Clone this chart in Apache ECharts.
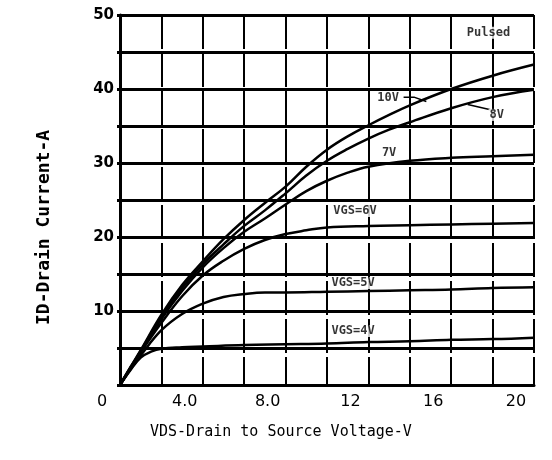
<!DOCTYPE html>
<html>
<head>
<meta charset="utf-8">
<script src="https://cdn.jsdelivr.net/npm/echarts@6/dist/echarts.min.js"></script>
<style>
html,body{margin:0;padding:0;background:#fff;}
#chart{width:552px;height:460px;}
</style>
</head>
<body>
<div id="chart"></div>
<script>
// drain current (A) vs drain-source voltage (V), one array per gate voltage
var vgs4V = [[0,0],[0.5,2],[1,3.7],[1.5,4.5],[2,4.9],[3,5.1],[4,5.2],[6,5.4],[8,5.5],[10,5.6],[12,5.8],[14,5.9],[16,6.1],[18,6.2],[20,6.4]];
var vgs5V = [[0,0],[0.5,2.1],[1,4],[2,7.4],[3,9.6],[4,11],[5,11.9],[6,12.3],[7,12.5],[8,12.5],[10,12.6],[12,12.7],[14,12.8],[16,12.9],[18,13.1],[20,13.2]];
var vgs6V = [[0,0],[0.5,2.2],[1,4.4],[2,8.4],[3,12],[4,14.8],[5,16.8],[6,18.4],[7,19.6],[8,20.4],[9,20.9],[10,21.3],[12,21.5],[14,21.6],[16,21.7],[18,21.8],[20,21.9]];
var vgs7V = [[0,0],[0.5,2.3],[1,4.5],[2,8.9],[3,12.7],[4,15.9],[5,18.5],[6,20.7],[7,22.5],[8,24.4],[9,26.2],[10,27.6],[11,28.7],[12,29.5],[14,30.3],[16,30.7],[18,30.9],[20,31.1]];
var vgs8V = [[0,0],[0.5,2.3],[1,4.6],[2,9.2],[3,13.1],[4,16.3],[5,19],[6,21.5],[7,23.6],[8,25.9],[9,28.3],[10,30.3],[11,31.9],[12,33.3],[13,34.5],[14,35.5],[16,37.4],[18,38.9],[20,39.9]];
var vgs10V = [[0,0],[0.5,2.4],[1,4.7],[2,9.5],[3,13.5],[4,16.7],[5,19.7],[6,22.3],[7,24.6],[8,26.8],[9,29.5],[10,31.8],[11,33.6],[12,35.1],[13,36.5],[14,37.8],[16,40],[18,41.8],[20,43.3]];

// curve labels and where they sit (V, A)
var labelTexts = ['Pulsed', '10V', '8V', '7V', 'VGS=6V', 'VGS=5V', 'VGS=4V'];
var labelAt = [[17.8,47.6],[12.95,38.85],[18.2,36.5],[13.0,31.4],[11.35,23.5],[11.26,13.8],[11.26,7.3]];
// leader lines from the labels to the curves
var leader10V = [[13.7,38.9],[14.2,38.9],[14.8,38.3]];
var leader8V = [[17.9,37.2],[16.8,37.9]];

var xTicks = [0, 4, 8, 12, 16, 20];
var xTickText = ['0', '4.0', '8.0', '12', '16', '20'];
var yTicks = [10, 20, 30, 40, 50];

var chart = echarts.init(document.getElementById('chart'));

function curve(name, data) {
    return {
        name: name,
        type: 'line',
        data: data,
        showSymbol: false,
        smooth: 0.4,
        lineStyle: { color: '#000', width: 2.5 },
        silent: true,
        z: 3
    };
}
function leader(data) {
    return {
        type: 'line',
        data: data,
        showSymbol: false,
        lineStyle: { color: '#000', width: 1.5 },
        silent: true,
        z: 3
    };
}

var labelData = labelAt.map(function (p, i) { return [p[0], p[1], labelTexts[i]]; });

var option = {
    backgroundColor: '#fff',
    animation: false,
    grid: { left: 120, right: 18, top: 15, bottom: 75 },
    xAxis: {
        type: 'value',
        min: 0,
        max: 20,
        interval: 2,
        axisLine: { show: true, onZero: false, lineStyle: { color: '#000', width: 3 } },
        axisTick: { show: false },
        axisLabel: {
            margin: 9,
            color: '#000',
            fontFamily: 'DejaVu Sans',
            fontSize: 16,
            padding: [0, 36, 0, 0],
            formatter: function (v) {
                var i = xTicks.indexOf(v);
                return i >= 0 ? xTickText[i] : '';
            }
        },
        splitLine: { show: true, lineStyle: { color: '#000', width: 2, type: [34, 4] } }
    },
    yAxis: {
        type: 'value',
        min: 0,
        max: 50,
        interval: 5,
        axisLine: { show: true, lineStyle: { color: '#000', width: 3 } },
        axisTick: { show: true, length: 3, lineStyle: { color: '#000', width: 3 } },
        axisLabel: {
            margin: 6,
            color: '#000',
            fontFamily: 'DejaVu Sans',
            fontWeight: 'bold',
            fontSize: 15,
            formatter: function (v) { return yTicks.indexOf(v) >= 0 ? String(v) : ''; }
        },
        splitLine: { show: true, lineStyle: { color: '#000', width: 3 } }
    },
    graphic: [
        {
            type: 'text',
            left: 150, top: 425,
            style: {
                text: 'VDS-Drain to Source Voltage-V',
                fill: '#000',
                font: '15px "DejaVu Sans Mono"'
            }
        },
        {
            type: 'text',
            x: 35, y: 325,
            rotation: Math.PI / 2,
            style: {
                text: 'ID-Drain Current-A',
                fill: '#000',
                font: 'bold 18px "DejaVu Sans Mono"'
            }
        }
    ],
    series: [
        curve('4V', vgs4V),
        curve('5V', vgs5V),
        curve('6V', vgs6V),
        curve('7V', vgs7V),
        curve('8V', vgs8V),
        curve('10V', vgs10V),
        leader(leader10V),
        leader(leader8V),
        {
            type: 'scatter',
            data: labelData,
            symbolSize: 0,
            silent: true,
            z: 5,
            label: {
                show: true,
                position: 'inside',
                formatter: function (p) { return p.data[2]; },
                color: '#000',
                backgroundColor: '#fff',
                padding: [0, 1],
                fontFamily: 'DejaVu Sans Mono',
                fontWeight: 'bold',
                fontSize: 12
            }
        }
    ]
};

chart.setOption(option);
</script>
</body>
</html>
